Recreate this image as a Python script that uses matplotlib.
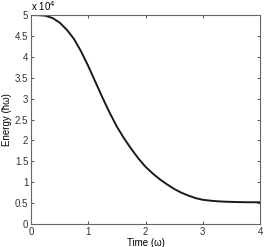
import numpy as np
import matplotlib
matplotlib.use("Agg")
import matplotlib.pyplot as plt

# values (energy in units of 1e4)
time = [0, 0.125, 0.25, 0.375, 0.5, 0.625, 0.75, 0.875, 1.0, 1.125, 1.25, 1.375,
        1.5, 1.625, 1.75, 1.875, 2.0, 2.125, 2.25, 2.375, 2.5, 2.625, 2.75, 2.875,
        3.0, 3.125, 3.25, 3.375, 3.5, 3.625, 3.75, 3.875, 4.0]
energy = [5.0, 4.998, 4.985, 4.93, 4.82, 4.65, 4.43, 4.13, 3.78, 3.40, 3.02, 2.66,
          2.33, 2.05, 1.80, 1.57, 1.37, 1.21, 1.07, 0.95, 0.84, 0.75, 0.68, 0.62,
          0.58, 0.56, 0.545, 0.535, 0.53, 0.525, 0.522, 0.521, 0.52]
xticks = [0, 1, 2, 3, 4]
yticks = [0, 0.5, 1, 1.5, 2, 2.5, 3, 3.5, 4, 4.5, 5]

plt.rcParams['font.family'] = ['Liberation Sans', 'DejaVu Sans']
plt.rcParams['font.size'] = 7

fig = plt.figure(figsize=(2.67, 2.47), dpi=100)
ax = fig.add_axes([0.116, 0.093, 0.858, 0.846])
ax.plot(time, energy, color='#1a1a1a', linewidth=1.4)

ax.set_xlim(0, 4)
ax.set_ylim(0, 5)
ax.set_xticks(xticks)
ax.set_yticks(yticks)
ax.set_yticklabels(['0', '0.5', '1', '1.5', '2', '2.5', '3', '3.5', '4', '4.5', '5'])
ax.tick_params(direction='in', length=2.5, width=0.6, colors='#333333', pad=2,
               labelsize=7, top=True, right=True)
for s in ax.spines.values():
    s.set_color('#666666')
    s.set_linewidth(0.8)

ax.set_xlabel('Time (\u03c9)', fontsize=7, labelpad=1)
ax.set_ylabel('Energy (\u0127\u03c9)', fontsize=7, labelpad=2)
ax.text(0, 1.01, 'x 10$^4$', transform=ax.transAxes, fontsize=7, va='bottom', ha='left')

fig.savefig('out.png', dpi=100)
